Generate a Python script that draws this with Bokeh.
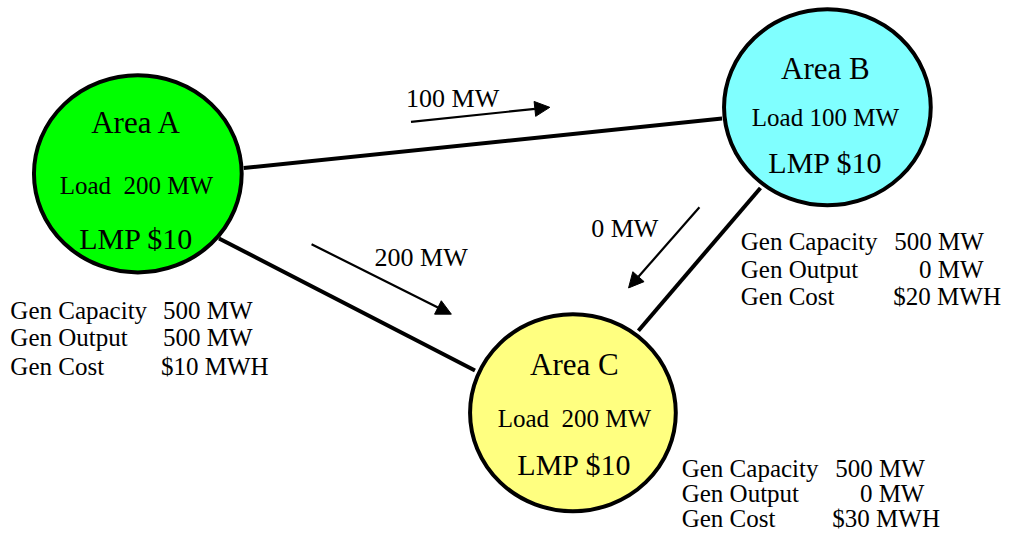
from bokeh.plotting import figure
from bokeh.models import Range1d, Arrow, NormalHead, ColumnDataSource
from bokeh.core.properties import value
from bokeh.embed import file_html
from bokeh.resources import INLINE

# ---- data ----
areas = ["Area A", "Area B", "Area C"]
loads_mw = [200, 100, 200]
lmps = [10, 10, 10]
gen_capacity_mw = [500, 500, 500]
gen_output_mw = [500, 0, 0]
gen_cost = [10, 20, 30]
flow_links = [("A", "B"), ("A", "C"), ("B", "C")]
flows_mw = [100, 200, 0]
area_colors = ["#00FF00", "#80FFFF", "#FFFF80"]

# ---- layout (reference pixel coordinates) ----
node_cx = [139.5, 840, 581.5]
node_cy = [178.5, 110, 424.5]
node_w = [211, 210, 209]
node_h = [203, 202, 203]
title_base = [126, 70, 375]
load_base = [190, 120, 430]
lmp_base = [245, 167, 478]
text_cx = [138, 838, 583]

link_ends = {("A", "B"): (247, 172.5, 733, 121.5),
             ("A", "C"): (222, 245, 482, 381),
             ("B", "C"): (772, 193, 648, 340)}
arrow_pos = [(417, 125, 558, 110), (316, 251, 458, 323), (710, 213, 638, 296)]
flow_label_pos = [(412, 101), (380, 265), (600, 235)]

gen_label_x = [10, 752, 692]
gen_base = [(319, 347, 377), (248, 277, 305), (482, 508, 533)]
gen_val_x = [(165, 165, 163), (908, 933, 907), (848, 873, 845)]

FONT = value("Liberation Serif")
NB = "\u00a0"

p = figure(width=1010, height=538, output_backend="svg", toolbar_location=None,
           x_range=Range1d(0, 1026), y_range=Range1d(554, 0),
           x_axis_location=None, y_axis_location=None, min_border=0)
p.grid.visible = False
p.outline_line_color = None
p.background_fill_color = "white"
p.border_fill_color = "white"

# links
for link in flow_links:
    x0, y0, x1, y1 = link_ends[link]
    p.line([x0, x1], [y0, y1], line_color="black", line_width=4)

# nodes
src = ColumnDataSource(dict(x=node_cx, y=node_cy, w=node_w, h=node_h, c=area_colors))
p.ellipse(x="x", y="y", width="w", height="h", fill_color="c", line_color="black",
          line_width=4, source=src)

# node texts
p.text(x=text_cx, y=title_base, text=areas, text_font=FONT, text_font_size="31px",
       text_align="center", text_baseline="alphabetic", text_color="black")
load_txt = [("Load" + NB + NB + "%d MW" if i != 1 else "Load %d MW") % v for i, v in enumerate(loads_mw)]
p.text(x=text_cx, y=load_base, text=load_txt, text_font=FONT, text_font_size="25px",
       text_align="center", text_baseline="alphabetic", text_color="black")
p.text(x=text_cx, y=lmp_base, text=["LMP $%d" % v for v in lmps], text_font=FONT,
       text_font_size="30px", text_align="center", text_baseline="alphabetic", text_color="black")

# flow arrows
for (xs, ys, xe, ye) in arrow_pos:
    p.add_layout(Arrow(end=NormalHead(size=15, fill_color="black", line_color="black"),
                       x_start=xs, y_start=ys, x_end=xe, y_end=ye,
                       line_color="black", line_width=2.2))
p.text(x=[q[0] for q in flow_label_pos], y=[q[1] for q in flow_label_pos],
       text=["%d MW" % v for v in flows_mw], text_font=FONT, text_font_size="26px",
       text_align="left", text_baseline="alphabetic", text_color="black")

# generator info
lx, ly, lt, vx, vt = [], [], [], [], []
for i in range(3):
    row_labels = ["Gen Capacity", "Gen Output", "Gen Cost"]
    row_vals = ["%d MW" % gen_capacity_mw[i], "%d MW" % gen_output_mw[i], "$%d MWH" % gen_cost[i]]
    for r in range(3):
        lx.append(gen_label_x[i]); ly.append(gen_base[i][r]); lt.append(row_labels[r])
        vx.append(gen_val_x[i][r]); vt.append(row_vals[r])
p.text(x=lx, y=ly, text=lt, text_font=FONT, text_font_size="25px",
       text_align="left", text_baseline="alphabetic", text_color="black")
p.text(x=vx, y=ly, text=vt, text_font=FONT, text_font_size="25px",
       text_align="left", text_baseline="alphabetic", text_color="black")

open("out.html", "w").write(file_html(p, INLINE))
